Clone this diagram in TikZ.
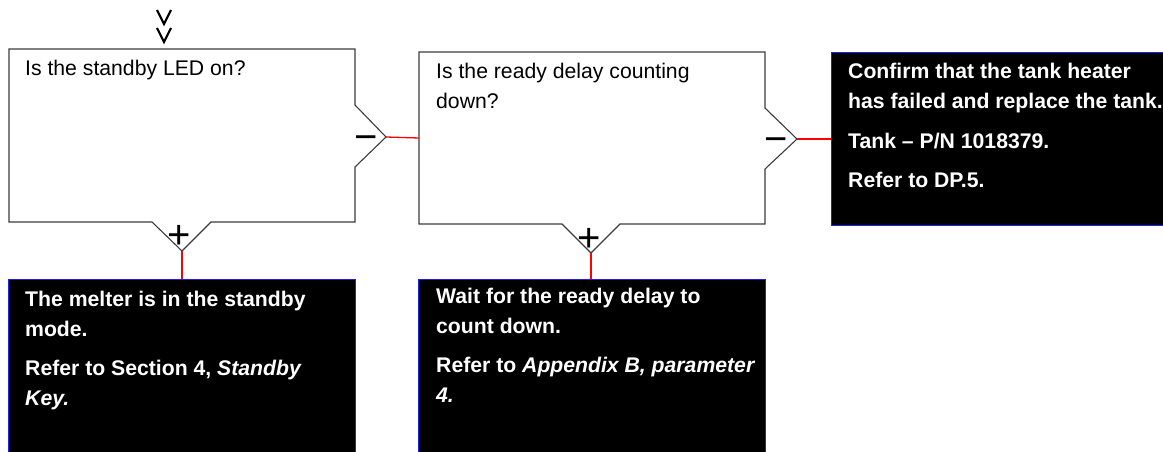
\documentclass[tikz,border=0pt]{standalone}
\usepackage{fontspec}
\setmainfont{Liberation Sans}
\definecolor{edgegray}{RGB}{60,60,60}
\definecolor{boxblue}{RGB}{30,30,240}
\definecolor{linkred}{RGB}{255,0,0}
\tikzset{
  qedge/.style={draw=edgegray, line width=1.1pt, line join=miter},
  abox/.style={draw=boxblue, fill=black, line width=1.2pt, inner sep=0pt, anchor=north west},
  link/.style={draw=linkred, line width=1.3pt},
  qtext/.style={anchor=base west, inner sep=0pt, text=black},
  atext/.style={anchor=base west, inner sep=0pt, text=white},
  sign/.style={inner sep=0pt, font=\fontsize{40}{40}\selectfont},
  chev/.style={draw=black, line width=2.2pt, line join=miter}
}
\newcommand{\qfont}{\fontsize{21.2}{30}\selectfont}
\newcommand{\afont}{\fontsize{21.2}{30}\selectfont\bfseries\setlength{\parskip}{9.5pt}}
\begin{document}
\begin{tikzpicture}[x=1pt,y=-1pt]
\clip (0,0) rectangle (1163,452);
\fill[white] (0,0) rectangle (1163,452);
% entry chevrons
\draw[chev] (157,10) -- (164,24) -- (171,10);
\draw[chev] (157,28) -- (164,42) -- (171,28);
% decision box 1
\coordinate (q1m) at (386,137);
\coordinate (q1p) at (182,251);
\draw[qedge] (9,49) -- (355,49) -- (355,105) -- (q1m) -- (355,167) -- (355,222)
  -- (211,222) -- (q1p) -- (152,222) -- (9,222) -- cycle;
\node[qtext] (q1t) at (25,76) {\qfont Is the standby LED on?};
\node[sign] (q1minus) at (366,143) {\char"2212};
\node[sign] (q1plus) at (179,237) {+};
% decision box 2
\coordinate (q2m) at (797,139);
\coordinate (q2p) at (591,253);
\coordinate (q2in) at (419,138);
\draw[qedge] (419,52) -- (765,52) -- (765,108) -- (q2m) -- (765,169) -- (765,224)
  -- (620,224) -- (q2p) -- (562,224) -- (419,224) -- cycle;
\node[qtext] (q2t) at (436,78) {\parbox[t]{320pt}{\qfont Is the ready delay counting\\down?}};
\node[sign] (q2minus) at (776,145) {\char"2212};
\node[sign] (q2plus) at (589,240) {+};
% answer boxes
\node[abox, minimum width=347pt, minimum height=200pt] (a1) at (8,279) {};
\node[abox, minimum width=347pt, minimum height=200pt] (a2) at (418,279) {};
\node[abox, minimum width=360pt, minimum height=173pt] (a3) at (831,52) {};
\node[atext] (a1t) at (25,306) {\parbox[t]{330pt}{\afont The melter is in the standby\\mode.\par Refer to Section 4, \textit{Standby}\\\textit{Key.}}};
\node[atext] (a2t) at (436,303) {\parbox[t]{330pt}{\afont Wait for the ready delay to\\count down.\par Refer to \textit{Appendix B, parameter}\\\textit{4.}}};
\node[atext] (a3t) at (848,79) {\parbox[t]{330pt}{\afont Confirm that the tank heater\\has failed and replace the tank.\par Tank \char"2013{} P/N 1018379.\par Refer to DP.5.}};
% connectors
\draw[link] (q1m) -- (q2in);
\draw[link] (q2m) -- (a3.west |- q2m);
\draw[link] (q1p) -- (a1.north -| q1p);
\draw[link] (q2p) -- (a2.north -| q2p);
\end{tikzpicture}
\end{document}
